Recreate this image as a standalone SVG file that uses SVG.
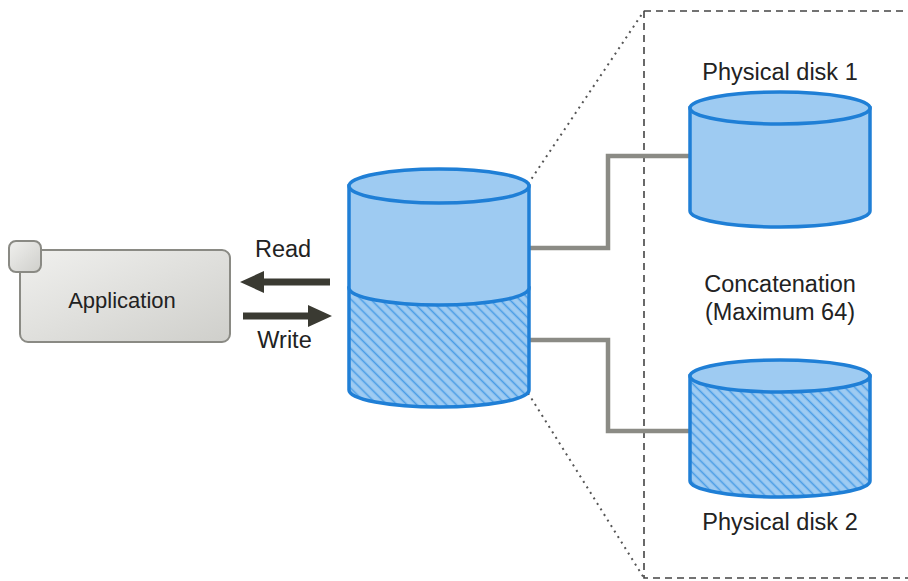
<svg xmlns="http://www.w3.org/2000/svg" width="908" height="581" viewBox="0 0 908 581">
<style>
.t{font-family:"Liberation Sans",Arial,sans-serif;font-size:23.5px;fill:#222;text-anchor:middle}
.cyl{stroke:#1f7fd6;stroke-width:3.5;fill:#9ecbf2}
.hat{stroke:#1f7fd6;stroke-width:3.5;fill:url(#hatch)}
.conn{fill:none;stroke:#8b8b85;stroke-width:4.5}
.arr{fill:#3a3a32}
.dot{stroke:#555;stroke-width:2;stroke-dasharray:2,4.5}
</style>
<defs>
<pattern id="hatch" width="7" height="7" patternUnits="userSpaceOnUse" patternTransform="rotate(-45)">
<rect width="7" height="7" fill="#9ecbf2"/>
<line x1="1.5" y1="0" x2="1.5" y2="7" stroke="#4a9de6" stroke-width="1.6"/>
</pattern>
<linearGradient id="appg" x1="0" y1="0" x2="1" y2="1">
<stop offset="0" stop-color="#f0f0ee"/>
<stop offset="1" stop-color="#cfcfcb"/>
</linearGradient>
</defs>

<g id="frame">
<path d="M644 11 H908 M644 11 V578 H908" fill="none" stroke="#444" stroke-width="1.6" stroke-dasharray="7,5"/>
<line class="dot" x1="528" y1="184" x2="644" y2="11"/>
<line class="dot" x1="528" y1="393" x2="644" y2="578"/>
</g>

<g id="connectors">
<polyline class="conn" points="529,248 608,248 608,156 690,156"/>
<polyline class="conn" points="529,340 608,340 608,431 690,431"/>
<polygon class="arr" points="240,282 264,271 264,278.5 330,278.5 330,285.5 264,285.5 264,293"/>
<polygon class="arr" points="332,316 308,305 308,312.5 243,312.5 243,319.5 308,319.5 308,327"/>
</g>

<g id="application">
<rect x="20" y="250" width="210" height="92" rx="8" fill="url(#appg)" stroke="#8a8a84" stroke-width="2"/>
<rect x="9" y="241" width="32" height="31" rx="7" fill="url(#appg)" stroke="#8a8a84" stroke-width="2"/>
<text class="t" x="122" y="308" style="font-size:22px">Application</text>
</g>

<g id="labels">
<text class="t" x="283" y="257">Read</text>
<text class="t" x="284.5" y="348">Write</text>
</g>

<g id="volume">
<path class="hat" d="M349 288 V390 A90 17 0 0 0 529 390 V288 Z"/>
<path class="cyl" d="M349 186 V288 A90 17 0 0 0 529 288 V186 Z"/>
<ellipse class="cyl" cx="439" cy="186" rx="90" ry="17"/>
</g>

<g id="disk1">
<path class="cyl" d="M690 108 V211 A90 16 0 0 0 870 211 V108 Z"/>
<ellipse class="cyl" cx="780" cy="108" rx="90" ry="16"/>
<text class="t" x="780" y="80">Physical disk 1</text>
</g>

<g id="concat">
<text class="t" x="780" y="292">Concatenation</text>
<text class="t" x="780" y="320">(Maximum 64)</text>
</g>

<g id="disk2">
<path class="hat" d="M690 376 V481 A90 16 0 0 0 870 481 V376 Z"/>
<ellipse class="cyl" cx="780" cy="376" rx="90" ry="16"/>
<text class="t" x="780" y="530">Physical disk 2</text>
</g>
</svg>
